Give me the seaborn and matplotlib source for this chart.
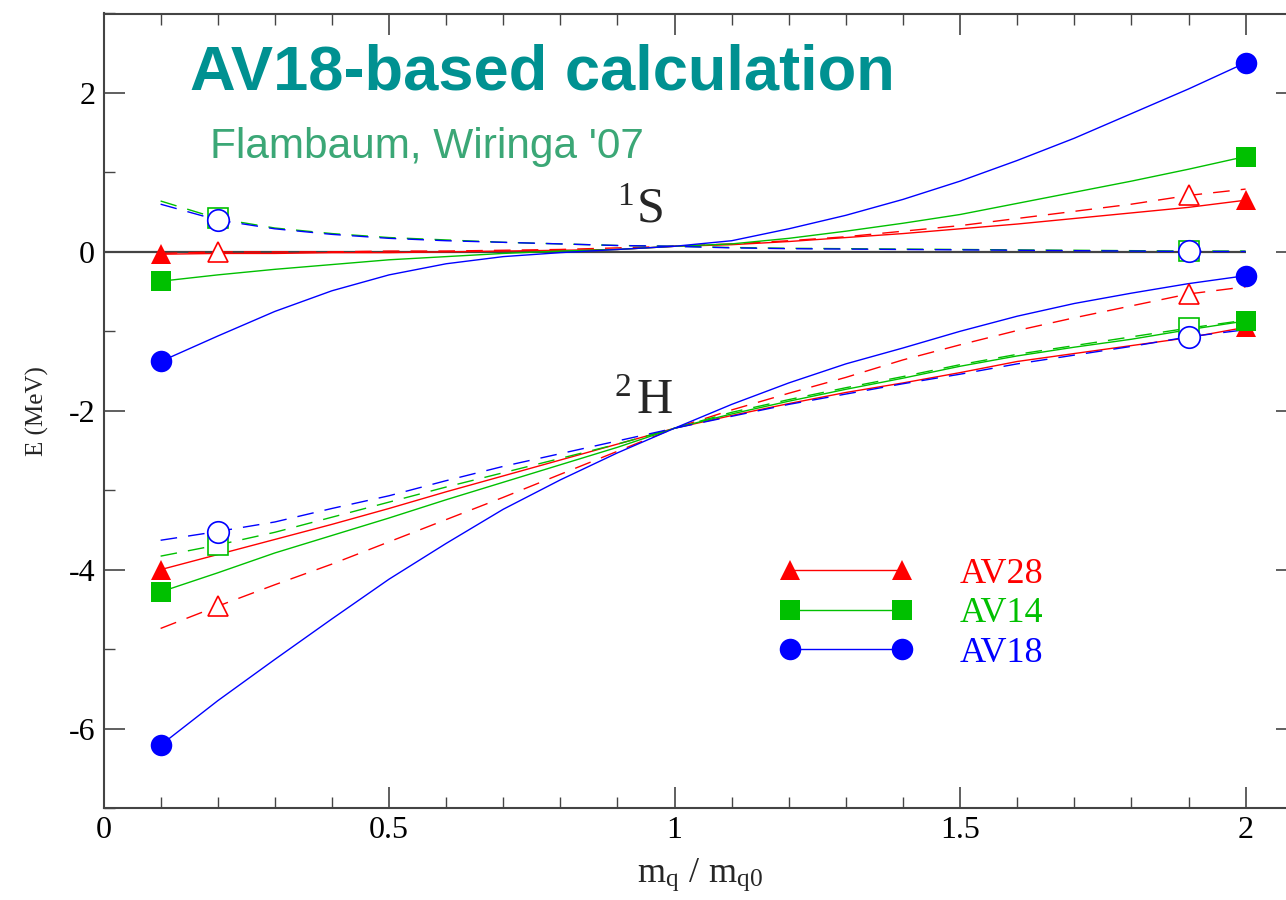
import matplotlib
matplotlib.use("Agg")
import matplotlib.pyplot as plt
from matplotlib.ticker import MultipleLocator
from matplotlib.lines import Line2D
import seaborn as sns

# ── data ──────────────────────────────────────────────────────────────────────
mq = [0.1, 0.2, 0.3, 0.4, 0.5, 0.6, 0.7, 0.8, 0.9, 1.0,
      1.1, 1.2, 1.3, 1.4, 1.5, 1.6, 1.7, 1.8, 1.9, 2.0]

# 1S (singlet) energies, MeV
singlet_av28 = [-0.03, -0.02, -0.02, -0.01, -0.01, 0.0, 0.01, 0.02, 0.03, 0.07,
                0.09, 0.13, 0.18, 0.23, 0.29, 0.35, 0.42, 0.49, 0.56, 0.65]
singlet_av14 = [-0.37, -0.29, -0.22, -0.16, -0.10, -0.06, -0.02, 0.01, 0.03, 0.07,
                0.10, 0.17, 0.26, 0.36, 0.47, 0.61, 0.75, 0.89, 1.04, 1.20]
singlet_av18 = [-1.38, -1.06, -0.75, -0.49, -0.29, -0.15, -0.06, -0.01, 0.03, 0.07,
                0.14, 0.29, 0.46, 0.66, 0.89, 1.15, 1.43, 1.74, 2.05, 2.38]
singlet_av28_dash = [-0.02, 0.0, 0.0, 0.0, 0.01, 0.01, 0.02, 0.03, 0.05, 0.07,
                     0.10, 0.14, 0.19, 0.26, 0.33, 0.42, 0.51, 0.60, 0.71, 0.79]
singlet_av14_dash = [0.64, 0.42, 0.30, 0.23, 0.18, 0.15, 0.12, 0.10, 0.08, 0.07,
                     0.055, 0.045, 0.04, 0.035, 0.03, 0.025, 0.02, 0.015, 0.01, 0.01]
singlet_av18_dash = [0.60, 0.40, 0.29, 0.22, 0.17, 0.14, 0.12, 0.10, 0.08, 0.07,
                     0.05, 0.04, 0.035, 0.03, 0.025, 0.02, 0.015, 0.01, 0.005, 0.005]

# 2H (deuteron) energies, MeV
deut_av28 = [-4.00, -3.81, -3.62, -3.43, -3.23, -3.02, -2.82, -2.62, -2.42, -2.22,
             -2.06, -1.91, -1.77, -1.65, -1.52, -1.38, -1.28, -1.18, -1.08, -0.95]
deut_av14 = [-4.28, -4.04, -3.79, -3.57, -3.35, -3.12, -2.90, -2.68, -2.46, -2.22,
             -2.04, -1.88, -1.73, -1.59, -1.44, -1.31, -1.20, -1.10, -0.98, -0.87]
deut_av18 = [-6.21, -5.65, -5.13, -4.62, -4.12, -3.67, -3.24, -2.87, -2.53, -2.22,
             -1.92, -1.65, -1.41, -1.21, -1.00, -0.81, -0.65, -0.52, -0.40, -0.30]
deut_av28_dash = [-4.74, -4.46, -4.19, -3.93, -3.65, -3.37, -3.09, -2.80, -2.51, -2.22,
                  -1.99, -1.78, -1.58, -1.36, -1.17, -0.99, -0.83, -0.68, -0.53, -0.44]
deut_av14_dash = [-3.83, -3.69, -3.53, -3.34, -3.15, -2.96, -2.78, -2.60, -2.42, -2.22,
                  -2.02, -1.86, -1.71, -1.57, -1.42, -1.29, -1.18, -1.07, -0.96, -0.86]
deut_av18_dash = [-3.63, -3.52, -3.40, -3.23, -3.07, -2.88, -2.70, -2.54, -2.38, -2.22,
                  -2.07, -1.92, -1.79, -1.66, -1.54, -1.41, -1.30, -1.19, -1.07, -0.98]

models = ["AV28", "AV14", "AV18"]

# ── style ─────────────────────────────────────────────────────────────────────
RED, GREEN, BLUE = "#ff0000", "#00c000", "#0000ff"
AX_COL = "#444444"
colors = {"AV28": RED, "AV14": GREEN, "AV18": BLUE}
markers = {"AV28": "^", "AV14": "s", "AV18": "o"}
msize = {"AV28": 15, "AV14": 14, "AV18": 15.5}

sns.set_style("ticks")
plt.rcParams.update({
    "font.family": ["Liberation Serif", "DejaVu Serif"],
    "mathtext.fontset": "stix",
    "axes.unicode_minus": False,
    "lines.dashed_pattern": [12, 8],
    "axes.edgecolor": AX_COL,
    "axes.linewidth": 1.5,
    "xtick.direction": "in", "ytick.direction": "in",
    "xtick.top": True, "ytick.right": True,
    "xtick.color": AX_COL, "ytick.color": AX_COL,
    "xtick.labelcolor": "black", "ytick.labelcolor": "black",
})

W, H = 1286, 900
fig = plt.figure(figsize=(W / 100, H / 100), dpi=100)
ax = fig.add_axes([103.5 / W, (H - 808) / H, (1297 - 103.5) / W, (808 - 13.5) / H])

ax.hlines(0, 0, 2.0, color=AX_COL, lw=1.6, zorder=1)

curves = [
    (singlet_av28, "AV28", False), (singlet_av14, "AV14", False), (singlet_av18, "AV18", False),
    (deut_av28, "AV28", False), (deut_av14, "AV14", False), (deut_av18, "AV18", False),
    (singlet_av28_dash, "AV28", True), (singlet_av14_dash, "AV14", True), (singlet_av18_dash, "AV18", True),
    (deut_av28_dash, "AV28", True), (deut_av14_dash, "AV14", True), (deut_av18_dash, "AV18", True),
]

order = {"AV28": 0, "AV14": 1, "AV18": 2}
for ys, m, dashed in curves:
    sns.lineplot(x=mq, y=ys, color=colors[m], lw=1.0, linestyle="--" if dashed else "-",
                 ax=ax, sort=False, errorbar=None, zorder=2 + order[m] * 0.1)

# markers: filled at the ends of solid curves, open at 0.2 / 1.9 of dashed curves
for ys, m, dashed in curves:
    idx = [1, 18] if dashed else [0, -1]
    xs = [mq[i] for i in idx]
    yv = [ys[i] for i in idx]
    if dashed:
        ax.plot(xs, yv, ls="none", marker=markers[m], ms=msize[m], mfc="white",
                mec=colors[m], mew=1.2, zorder=5 + order[m] * 0.1)
    else:
        ax.plot(xs, yv, ls="none", marker=markers[m], ms=msize[m], mfc=colors[m],
                mec=colors[m], mew=0, zorder=6 + order[m] * 0.1)

ax.set_xlim(0, 2.09)
ax.set_ylim(-7, 3)
ax.xaxis.set_major_locator(MultipleLocator(0.5))
ax.xaxis.set_minor_locator(MultipleLocator(0.1))
ax.yaxis.set_major_locator(MultipleLocator(2))
ax.yaxis.set_minor_locator(MultipleLocator(1))
ax.set_xticks([0, 0.5, 1, 1.5, 2])
ax.set_xticklabels(["0", "0.5", "1", "1.5", "2"])
ax.tick_params(which="major", length=15, width=1.2, labelsize=23, pad=6)
ax.tick_params(which="minor", length=8, width=1.0)
for s in ax.spines.values():
    s.set_visible(True)

ax.set_xlabel(r"m$_\mathregular{q}$ / m$_\mathregular{q0}$", fontsize=26, labelpad=8)
ax.set_ylabel("E (MeV)", fontsize=18, labelpad=14)

# legend
handles = [Line2D([], [], color=colors[m], lw=1.0, marker=markers[m], ms=msize[m],
                  mfc=colors[m], mec=colors[m], mew=0) for m in models]
leg = ax.legend(handles, models, numpoints=2, frameon=False, fontsize=26,
                handlelength=3.7, handletextpad=1.3, labelspacing=0.17,
                loc="upper left", bbox_to_anchor=(765 / W, 1 - 543 / H),
                bbox_transform=fig.transFigure, borderaxespad=0)
for txt, m in zip(leg.get_texts(), models):
    txt.set_color(colors[m])

# annotations
fig.text(190 / W, 1 - 90 / H, "AV18-based calculation", fontsize=45.5, fontweight="bold",
         family=["Liberation Sans", "DejaVu Sans"], color="#009191", va="baseline")
fig.text(210 / W, 1 - 158 / H, "Flambaum, Wiringa '07", fontsize=30.5,
         family=["Liberation Sans", "DejaVu Sans"], color="#3ba776", va="baseline")
fig.text(617 / W, 1 - 205 / H, "1", fontsize=24, va="baseline")
fig.text(637 / W, 1 - 221 / H, "S", fontsize=36, va="baseline")
fig.text(615 / W, 1 - 396 / H, "2", fontsize=24, va="baseline")
fig.text(637 / W, 1 - 413 / H, "H", fontsize=36, va="baseline")

fig.savefig("out.png", dpi=100)
